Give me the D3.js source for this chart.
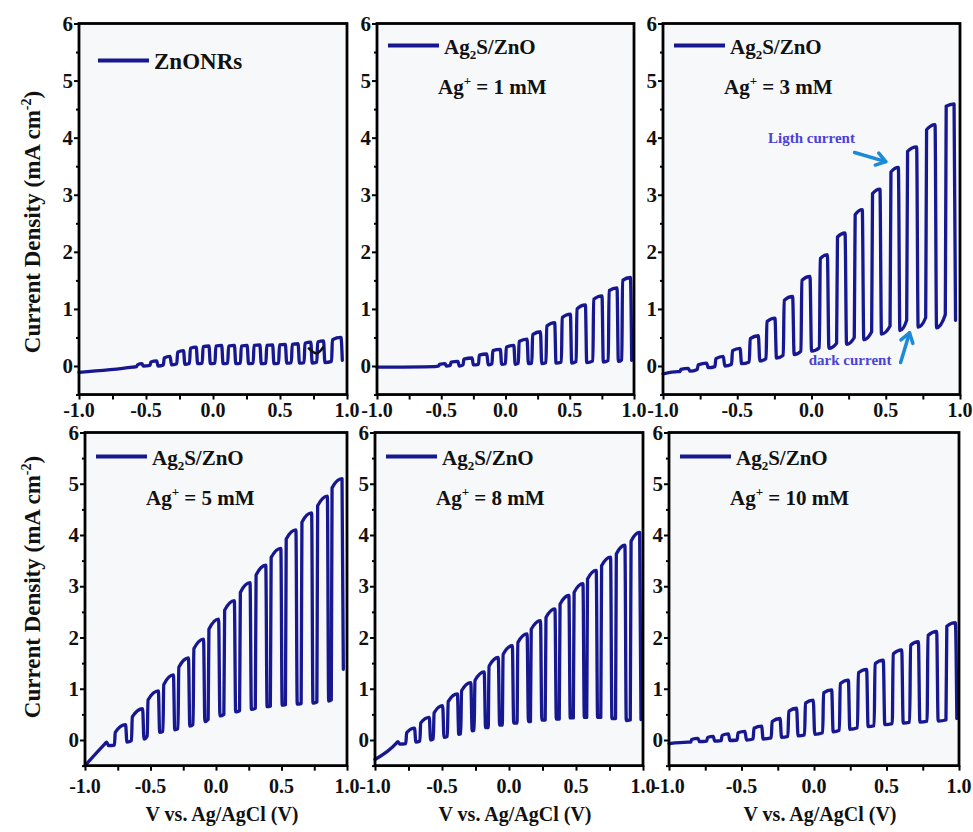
<!DOCTYPE html>
<html>
<head>
<meta charset="utf-8">
<script src="https://cdn.jsdelivr.net/npm/d3@7"></script>
<style>
  body { margin: 0; background: #fff; }
  svg { display: block; }
</style>
</head>
<body>
<svg></svg>
<script>
// chopped-light LSV curves, six panels

const WIDTH = 973;
const HEIGHT = 832;

const xTickLabels = [-1.0, -0.5, 0.0, 0.5, 1.0];
const xMinorTicks = [-1.0, -0.75, -0.5, -0.25, 0.0, 0.25, 0.5, 0.75, 1.0];
const yTickLabels = [0, 1, 2, 3, 4, 5, 6];
const yMinorTicks = [-0.5, 0.5, 1.5, 2.5, 3.5, 4.5, 5.5];

const sampleNames = ['ZnONRs', 'Ag2S/ZnO', 'Ag2S/ZnO', 'Ag2S/ZnO', 'Ag2S/ZnO', 'Ag2S/ZnO'];
const agConc = [null, 1, 3, 5, 8, 10];

// each cycle: [V light on, V light off, J dark before on, J light at on, J light at off, J dark after off]
const znoStart = [[-1.0, -0.11], [-0.6, -0.02]];
const znoCycles = [
  [-0.57, -0.53, -0.01, 0.02, 0.04, 0.0],
  [-0.47, -0.42, 0.01, 0.07, 0.09, 0.0],
  [-0.37, -0.32, 0.02, 0.14, 0.17, 0.02],
  [-0.27, -0.22, 0.04, 0.24, 0.27, 0.03],
  [-0.175, -0.125, 0.05, 0.31, 0.33, 0.04],
  [-0.08, -0.03, 0.05, 0.34, 0.35, 0.04],
  [0.015, 0.065, 0.05, 0.35, 0.36, 0.04],
  [0.11, 0.16, 0.05, 0.35, 0.36, 0.04],
  [0.205, 0.255, 0.05, 0.35, 0.36, 0.04],
  [0.30, 0.35, 0.05, 0.36, 0.37, 0.04],
  [0.395, 0.445, 0.05, 0.36, 0.37, 0.04],
  [0.49, 0.54, 0.05, 0.37, 0.38, 0.05],
  [0.585, 0.635, 0.06, 0.38, 0.39, 0.05],
  [0.68, 0.73, 0.06, 0.40, 0.42, 0.05],
  [0.775, 0.825, 0.07, 0.42, 0.44, 0.06],
  [0.885, 0.955, 0.08, 0.46, 0.50, 0.10]
];

const ag1Start = [[-1.0, -0.02], [-0.55, -0.01]];
const ag1Cycles = [
  [-0.52, -0.47, 0.0, 0.03, 0.04, 0.0],
  [-0.43, -0.37, 0.01, 0.07, 0.08, 0.0],
  [-0.33, -0.26, 0.02, 0.12, 0.14, 0.02],
  [-0.21, -0.145, 0.03, 0.19, 0.21, 0.02],
  [-0.105, -0.04, 0.04, 0.27, 0.29, 0.03],
  [0.0, 0.065, 0.04, 0.33, 0.36, 0.03],
  [0.10, 0.168, 0.05, 0.43, 0.47, 0.04],
  [0.205, 0.272, 0.05, 0.55, 0.60, 0.04],
  [0.315, 0.383, 0.06, 0.70, 0.76, 0.05],
  [0.435, 0.505, 0.07, 0.85, 0.91, 0.05],
  [0.55, 0.622, 0.08, 1.00, 1.07, 0.06],
  [0.68, 0.751, 0.09, 1.17, 1.23, 0.07],
  [0.80, 0.868, 0.10, 1.32, 1.37, 0.08],
  [0.905, 0.972, 0.11, 1.50, 1.55, 0.10]
];

const ag3Start = [[-1.0, -0.14], [-0.9, -0.10]];
const ag3Cycles = [
  [-0.886, -0.829, -0.10, -0.06, -0.04, -0.09],
  [-0.769, -0.706, -0.06, 0.02, 0.05, -0.03],
  [-0.650, -0.594, -0.01, 0.13, 0.17, 0.0],
  [-0.538, -0.481, 0.03, 0.27, 0.31, 0.04],
  [-0.419, -0.358, 0.07, 0.48, 0.53, 0.09],
  [-0.306, -0.246, 0.13, 0.78, 0.84, 0.14],
  [-0.190, -0.127, 0.19, 1.15, 1.22, 0.20],
  [-0.071, -0.010, 0.26, 1.50, 1.57, 0.26],
  [0.053, 0.107, 0.32, 1.88, 1.95, 0.31],
  [0.169, 0.226, 0.40, 2.26, 2.33, 0.38],
  [0.288, 0.342, 0.50, 2.65, 2.74, 0.46],
  [0.405, 0.461, 0.60, 3.02, 3.10, 0.56],
  [0.529, 0.585, 0.70, 3.40, 3.48, 0.62],
  [0.641, 0.708, 0.80, 3.76, 3.84, 0.68],
  [0.769, 0.832, 0.85, 4.14, 4.23, 0.67],
  [0.901, 0.960, 0.90, 4.55, 4.59, 0.80]
];

const ag5Start = [[-1.0, -0.5], [-0.85, -0.08], [-0.835, -0.04], [-0.82, -0.11]];
const ag5Cycles = [
  [-0.775, -0.69, -0.10, 0.15, 0.30, -0.04],
  [-0.645, -0.56, -0.01, 0.45, 0.61, 0.02],
  [-0.525, -0.44, 0.08, 0.78, 0.96, 0.15],
  [-0.405, -0.325, 0.17, 1.08, 1.27, 0.20],
  [-0.29, -0.21, 0.22, 1.42, 1.60, 0.27],
  [-0.175, -0.095, 0.30, 1.78, 1.97, 0.36],
  [-0.06, 0.02, 0.40, 2.16, 2.36, 0.47],
  [0.06, 0.14, 0.50, 2.53, 2.72, 0.55],
  [0.18, 0.26, 0.57, 2.88, 3.07, 0.60],
  [0.30, 0.38, 0.62, 3.22, 3.41, 0.65],
  [0.415, 0.495, 0.66, 3.56, 3.74, 0.68],
  [0.53, 0.61, 0.69, 3.92, 4.10, 0.70],
  [0.65, 0.73, 0.71, 4.25, 4.43, 0.72],
  [0.77, 0.85, 0.74, 4.57, 4.76, 0.76],
  [0.88, 0.962, 0.78, 4.92, 5.10, 1.38]
];

const ag8Start = [[-1.0, -0.38], [-0.84, -0.06], [-0.83, -0.03], [-0.815, -0.08]];
const ag8Cycles = [
  [-0.77, -0.705, -0.07, 0.14, 0.23, -0.04],
  [-0.665, -0.595, -0.02, 0.33, 0.44, 0.0],
  [-0.565, -0.495, 0.02, 0.53, 0.67, 0.05],
  [-0.46, -0.385, 0.07, 0.75, 0.90, 0.11],
  [-0.36, -0.285, 0.12, 0.96, 1.12, 0.18],
  [-0.26, -0.185, 0.19, 1.16, 1.33, 0.24],
  [-0.155, -0.08, 0.24, 1.44, 1.61, 0.29],
  [-0.05, 0.025, 0.29, 1.67, 1.84, 0.33],
  [0.06, 0.135, 0.33, 1.90, 2.07, 0.36],
  [0.16, 0.235, 0.36, 2.16, 2.33, 0.39],
  [0.27, 0.343, 0.39, 2.39, 2.56, 0.41],
  [0.375, 0.447, 0.41, 2.65, 2.82, 0.43],
  [0.48, 0.552, 0.43, 2.88, 3.05, 0.44],
  [0.58, 0.651, 0.44, 3.14, 3.31, 0.44],
  [0.685, 0.758, 0.44, 3.40, 3.57, 0.42],
  [0.795, 0.865, 0.42, 3.63, 3.80, 0.38],
  [0.905, 0.975, 0.39, 3.88, 4.05, 0.40]
];

const ag10Start = [[-1.0, -0.07], [-0.87, -0.04]];
const ag10Cycles = [
  [-0.85, -0.80, -0.04, 0.01, 0.03, -0.03],
  [-0.74, -0.695, -0.02, 0.05, 0.07, -0.02],
  [-0.64, -0.59, -0.01, 0.09, 0.12, -0.01],
  [-0.53, -0.476, 0.0, 0.14, 0.17, 0.0],
  [-0.42, -0.361, 0.02, 0.23, 0.27, 0.02],
  [-0.295, -0.234, 0.04, 0.36, 0.42, 0.05],
  [-0.18, -0.12, 0.07, 0.56, 0.62, 0.08],
  [-0.065, -0.005, 0.10, 0.72, 0.78, 0.11],
  [0.06, 0.122, 0.14, 0.92, 0.98, 0.16],
  [0.175, 0.237, 0.19, 1.10, 1.17, 0.21],
  [0.30, 0.363, 0.24, 1.31, 1.38, 0.26],
  [0.415, 0.478, 0.28, 1.49, 1.56, 0.30],
  [0.54, 0.605, 0.32, 1.68, 1.76, 0.33],
  [0.66, 0.72, 0.35, 1.85, 1.92, 0.35],
  [0.78, 0.846, 0.37, 2.04, 2.12, 0.37],
  [0.91, 0.975, 0.39, 2.22, 2.29, 0.42]
];

// annotations in data coordinates
const znoMark = [[0.71, 0.32], [0.775, 0.17], [0.825, 0.34]];
const lightLabel = { text: 'Ligth current', v: 0.0, j: 3.9 };
const lightArrow = [[0.29, 3.74], [0.50, 3.58]];
const darkLabel = { text: 'dark current', v: 0.26, j: 0.02 };
const darkArrow = [[0.60, 0.06], [0.66, 0.58]];

const LINE_COLOR = '#17178f';
const FONT = '"Liberation Serif", "Times New Roman", serif';

const starts = [znoStart, ag1Start, ag3Start, ag5Start, ag8Start, ag10Start];
const cycles = [znoCycles, ag1Cycles, ag3Cycles, ag5Cycles, ag8Cycles, ag10Cycles];

// panel frames (pixels)
const frames = [
  { x0: 79, x1: 347, y6: 23.5, y0: 366 },
  { x0: 377, x1: 634, y6: 23.5, y0: 366 },
  { x0: 663, x1: 960, y6: 23.5, y0: 366 },
  { x0: 85, x1: 347, y6: 432.5, y0: 740 },
  { x0: 375, x1: 643, y6: 432.5, y0: 740 },
  { x0: 669, x1: 959, y6: 432.5, y0: 740 }
];

const svg = d3.select('svg').
attr('width', WIDTH).
attr('height', HEIGHT).
attr('font-family', FONT).
attr('font-weight', 'bold');

svg.append('rect').attr('width', WIDTH).attr('height', HEIGHT).attr('fill', '#fff');

function tracePoints(start, cyc) {
  const pts = start.map(d => ({ v: d[0], j: d[1] }));
  cyc.forEach(c => {
    pts.push({ v: c[0], j: c[2] });
    pts.push({ v: c[0] + 0.006, j: c[3] });
    pts.push({ v: c[1], j: c[4] });
    pts.push({ v: c[1] + 0.01, j: c[5] });
  });
  return pts;
}

frames.forEach((f, i) => {
  const row = i < 3 ? 0 : 1;
  const x = d3.scaleLinear().domain([-1, 1]).range([f.x0, f.x1]);
  const y = d3.scaleLinear().domain([0, 6]).range([f.y0, f.y6]);
  const yBottom = y(-0.5);

  const g = svg.append('g').attr('class', 'panel');

  g.append('rect').
  attr('x', f.x0).attr('y', f.y6).
  attr('width', f.x1 - f.x0).attr('height', yBottom - f.y6).
  attr('fill', '#f7f8fa');

  // curve
  const line = d3.line().
  x(d => x(d.v)).
  y(d => y(d.j)).
  curve(d3.curveMonotoneX);

  g.append('path').
  datum(tracePoints(starts[i], cycles[i])).
  attr('d', line).
  attr('fill', 'none').
  attr('stroke', LINE_COLOR).
  attr('stroke-width', 3.3).
  attr('stroke-linejoin', 'round').
  attr('stroke-linecap', 'round');

  // frame
  g.append('rect').
  attr('x', f.x0).attr('y', f.y6).
  attr('width', f.x1 - f.x0).attr('height', yBottom - f.y6).
  attr('fill', 'none').
  attr('stroke', '#000').
  attr('stroke-width', 2.8);

  // x axis
  const xAxis = d3.axisBottom(x).
  tickValues(xMinorTicks).
  tickSize(5).
  tickFormat('');
  const xa = g.append('g').attr('transform', `translate(0, ${yBottom})`).call(xAxis);
  xa.select('.domain').remove();
  xa.selectAll('line').attr('stroke', '#000').attr('stroke-width', 2);

  g.selectAll('.xlab').
  data(xTickLabels).
  enter().
  append('text').
  attr('x', d => x(d)).
  attr('y', row === 0 ? 417 : 793).
  attr('text-anchor', 'middle').
  attr('font-size', 20).
  attr('fill', '#111').
  text(d => d3.format('.1f')(d).replace('−', '-'));

  // y axis
  const yAxis = d3.axisLeft(y).tickValues(yTickLabels).tickSize(5).tickFormat('');
  const ya = g.append('g').attr('transform', `translate(${f.x0}, 0)`).call(yAxis);
  ya.select('.domain').remove();
  ya.selectAll('line').attr('stroke', '#000').attr('stroke-width', 2);

  const yMinor = d3.axisLeft(y).tickValues(yMinorTicks).tickSize(3).tickFormat('');
  const ym = g.append('g').attr('transform', `translate(${f.x0}, 0)`).call(yMinor);
  ym.select('.domain').remove();
  ym.selectAll('line').attr('stroke', '#000').attr('stroke-width', 2);

  g.selectAll('.ylab').
  data(yTickLabels).
  enter().
  append('text').
  attr('x', f.x0 - 6).
  attr('y', d => y(d) + 7).
  attr('text-anchor', 'end').
  attr('font-size', 21).
  attr('fill', '#111').
  text(d => d);

  // legend
  const lx = f.x0 + (i === 0 ? 19 : 11);
  const ly = f.y6 + (i === 0 ? 37 : row === 0 ? 22 : 24);
  g.append('line').
  attr('x1', lx).attr('x2', lx + 51).
  attr('y1', ly).attr('y2', ly).
  attr('stroke', LINE_COLOR).
  attr('stroke-width', 3.8);

  const nameText = g.append('text').
  attr('x', lx + 56).
  attr('y', ly + 8).
  attr('font-size', i === 0 ? 23 : 21).
  attr('fill', '#111');
  if (sampleNames[i] === 'ZnONRs') {
    nameText.text('ZnONRs');
  } else {
    nameText.append('tspan').text('Ag');
    nameText.append('tspan').attr('dy', 5).attr('font-size', 13).text('2');
    nameText.append('tspan').attr('dy', -5).text('S/ZnO');
  }

  if (agConc[i] !== null) {
    const ct = g.append('text').
    attr('x', lx + 50).
    attr('y', ly + 48).
    attr('font-size', 21).
    attr('fill', '#111');
    ct.append('tspan').text('Ag');
    ct.append('tspan').attr('dy', -9).attr('font-size', 13).text('+');
    ct.append('tspan').attr('dy', 9).text(` = ${agConc[i]} mM`);
  }

  // x title under bottom row
  if (row === 1) {
    g.append('text').
    attr('x', (f.x0 + f.x1) / 2 + 6).
    attr('y', 821).
    attr('text-anchor', 'middle').
    attr('font-size', 20).
    attr('fill', '#111').
    text('V vs. Ag/AgCl (V)');
  }

  // annotations
  if (i === 0) {
    g.append('path').
    datum(znoMark).
    attr('d', d3.line().x(d => x(d[0])).y(d => y(d[1])).curve(d3.curveBasis)).
    attr('fill', 'none').
    attr('stroke', '#111').
    attr('stroke-width', 2.5);
  }
  if (i === 2) {
    g.append('text').
    attr('x', x(lightLabel.v)).
    attr('y', y(lightLabel.j)).
    attr('text-anchor', 'middle').
    attr('font-size', 15).
    attr('fill', '#4a43d4').
    text(lightLabel.text);
    g.append('text').
    attr('x', x(darkLabel.v)).
    attr('y', y(darkLabel.j)).
    attr('text-anchor', 'middle').
    attr('font-size', 15).
    attr('fill', '#4a43d4').
    text(darkLabel.text);

    [lightArrow, darkArrow].forEach(a => {
      const x1 = x(a[0][0]), y1 = y(a[0][1]);
      const x2 = x(a[1][0]), y2 = y(a[1][1]);
      const ang = Math.atan2(y2 - y1, x2 - x1);
      const h = 11;
      g.append('line').
      attr('x1', x1).attr('y1', y1).attr('x2', x2).attr('y2', y2).
      attr('stroke', '#1c8ad6').attr('stroke-width', 3.5).attr('stroke-linecap', 'round');
      g.append('path').
      attr('d', `M${x2 - h * Math.cos(ang - 0.6)},${y2 - h * Math.sin(ang - 0.6)}L${x2},${y2}L${x2 - h * Math.cos(ang + 0.6)},${y2 - h * Math.sin(ang + 0.6)}`).
      attr('fill', 'none').
      attr('stroke', '#1c8ad6').attr('stroke-width', 3.5).
      attr('stroke-linecap', 'round').attr('stroke-linejoin', 'round');
    });
  }
});

// y titles
[222, 587].forEach(cy => {
  const t = svg.append('text').
  attr('transform', `translate(40, ${cy}) rotate(-90)`).
  attr('text-anchor', 'middle').
  attr('font-size', 23).
  attr('fill', '#111');
  t.append('tspan').text('Current Density (mA cm');
  t.append('tspan').attr('dy', -9).attr('font-size', 14).text('-2');
  t.append('tspan').attr('dy', 9).text(')');
});
</script>
</body>
</html>
